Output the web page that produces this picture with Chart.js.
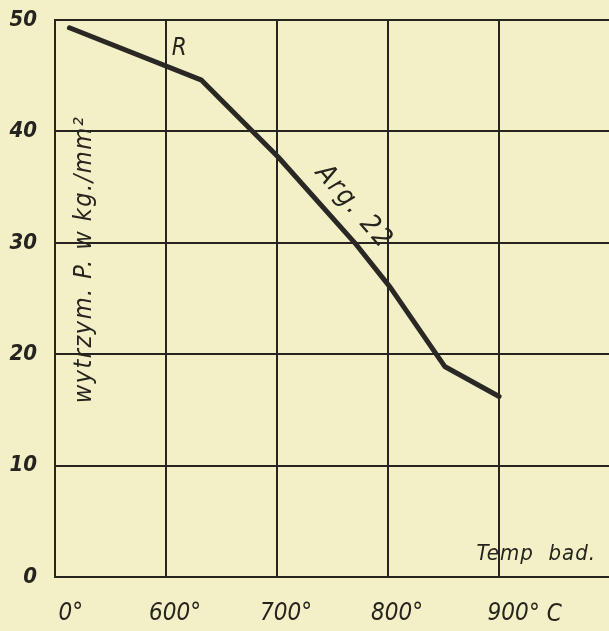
<!DOCTYPE html>
<html>
<head>
<meta charset="utf-8">
<script src="https://cdn.jsdelivr.net/npm/chart.js@4/dist/chart.umd.min.js"></script>
<style>
  html, body { margin:0; padding:0; background:#f3efc6; }
  #wrap { width:609px; height:631px; position:relative; }
</style>
</head>
<body>
<div id="wrap"><canvas id="chart"></canvas></div>
<script>
/* ===============================
   DATA
================================ */
// x in axis units: the axis is broken, 500 stands for "0°"
const tempValues = [513, 632, 701, 770, 802, 851, 900];
const strengthValues = [49.3, 44.6, 37.7, 30.0, 26.0, 18.9, 16.2];

const xTickValues = [500, 600, 700, 800, 900];
const xTickLabels = ["  0°", "600°", "700°", "800°", "900"];
const yTickValues = [0, 10, 20, 30, 40, 50];

const INK = "#26241e";
const FONT = "'DejaVu Sans Condensed', 'DejaVu Sans', sans-serif";

/* ===============================
   ANNOTATIONS (text on paper)
================================ */
const notes = {
  id: "notes",
  afterDatasetsDraw(chart) {
    const { ctx, scales: { x, y }, chartArea } = chart;
    ctx.save();
    ctx.fillStyle = INK;
    ctx.textBaseline = "middle";

    // curve name
    ctx.font = "italic 24px " + FONT;
    ctx.textAlign = "center";
    ctx.fillText("R", x.getPixelForValue(612), y.getPixelForValue(47.4));

    // steel grade along the line
    ctx.save();
    ctx.translate(x.getPixelForValue(769), y.getPixelForValue(33.2));
    ctx.rotate(Math.atan2(1.15, 1));
    ctx.font = "italic 27px " + FONT;
    ctx.letterSpacing = "2px";
    ctx.fillText("Arg. 22", 0, 0);
    ctx.restore();

    // axis name inside plot
    ctx.save();
    ctx.font = "italic 22px " + FONT;
    ctx.letterSpacing = "1px";
    ctx.textAlign = "right";
    ctx.fillText("Temp  bad.", 596, y.getPixelForValue(2.0));
    ctx.restore();

    // vertical title
    ctx.save();
    ctx.translate(chartArea.left + 29, y.getPixelForValue(28.5));
    ctx.rotate(-Math.PI / 2);
    ctx.textAlign = "center";
    ctx.font = "italic 25px " + FONT;
    ctx.letterSpacing = "1.5px";
    ctx.fillText("wytrzym. P. w kg./mm²", 0, 0);
    ctx.restore();

    // unit after last tick
    ctx.font = "italic 24px " + FONT;
    ctx.textAlign = "left";
    ctx.fillText("° C", x.getPixelForValue(900) + 30, chartArea.bottom + 38);

    ctx.restore();
  }
};

/* ===============================
   CHART
================================ */
new Chart(document.getElementById("chart"), {
  type: "line",
  data: {
    datasets: [{
      data: tempValues.map((t, i) => ({ x: t, y: strengthValues[i] })),
      borderColor: "#2a2824",
      borderWidth: 5,
      pointRadius: 0,
      tension: 0,
      borderCapStyle: "round",
      borderJoinStyle: "round"
    }]
  },
  options: {
    responsive: true,
    maintainAspectRatio: false,
    animation: false,
    layout: { padding: { top: 20, right: 0, bottom: 0, left: 0 } },
    plugins: { legend: { display: false }, tooltip: { enabled: false } },
    scales: {
      x: {
        type: "linear",
        min: 500,
        max: 999,
        afterBuildTicks: s => { s.ticks = xTickValues.map(v => ({ value: v })); },
        afterFit: s => { s.height = 54; s.paddingLeft = 0; s.paddingRight = 0; },
        grid: { color: INK, lineWidth: 2, drawTicks: false },
        border: { color: INK, width: 2 },
        ticks: {
          color: INK,
          font: { family: FONT, size: 24, style: "italic" },
          padding: 22,
          labelOffset: 9,
          maxRotation: 0,
          callback: (v, i) => xTickLabels[i]
        }
      },
      y: {
        min: 0,
        max: 50,
        afterBuildTicks: s => { s.ticks = yTickValues.map(v => ({ value: v })); },
        afterFit: s => { s.width = 55; s.paddingTop = 0; s.paddingBottom = 0; },
        grid: { color: INK, lineWidth: 2, drawTicks: false },
        border: { color: INK, width: 2 },
        ticks: {
          color: INK,
          font: { family: FONT, size: 22, style: "italic", weight: "bold" },
          padding: 18
        }
      }
    }
  },
  plugins: [notes]
});
</script>
</body>
</html>
